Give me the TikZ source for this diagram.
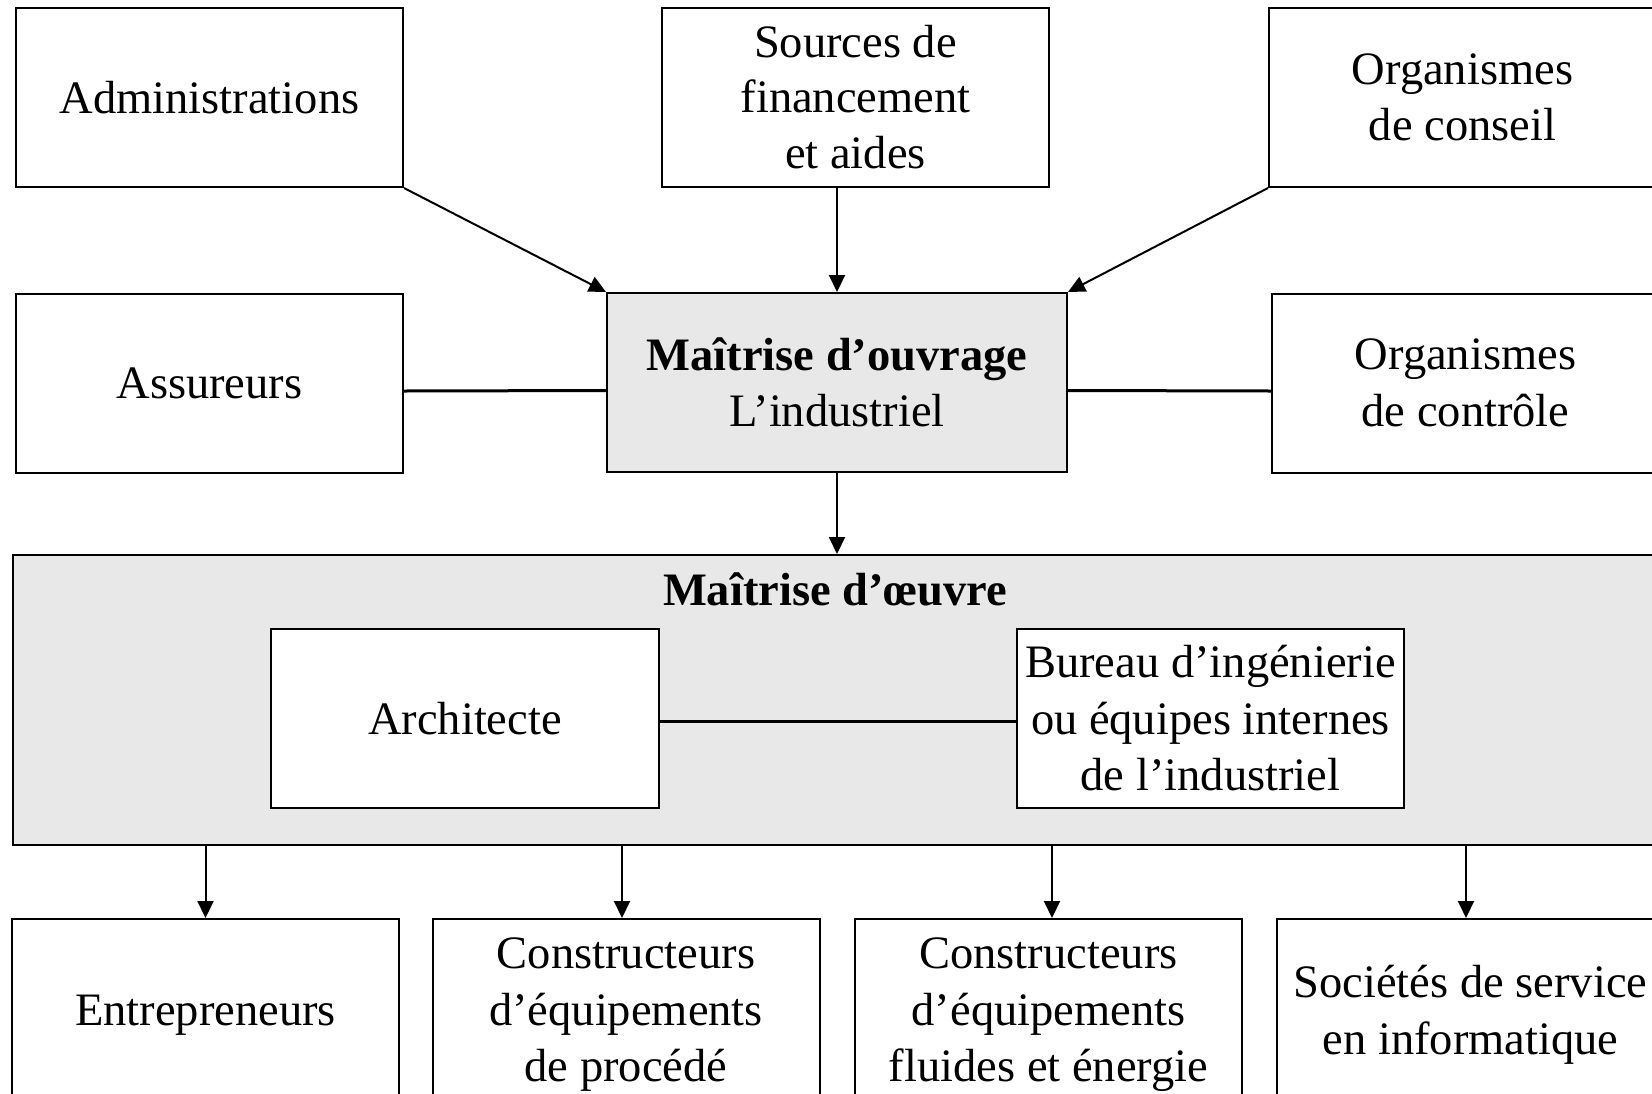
\documentclass[tikz,border=0pt]{standalone}
\usepackage{fontspec}
\setmainfont{Liberation Serif}
\usetikzlibrary{arrows.meta}
\definecolor{panelgray}{HTML}{E8E8E8}
\tikzset{
  box/.style={draw=black, line width=2pt, fill=white, inner sep=0pt,
    minimum width=387pt, minimum height=179pt, align=center},
  lowbox/.style={box, minimum height=192pt},
  panel/.style={draw=black, line width=2pt, fill=panelgray, inner sep=0pt},
  arr/.style={line width=2pt, -{Triangle[length=17pt,width=16pt]}},
  link/.style={line width=3pt},
}
\begin{document}
\begin{tikzpicture}[x=1pt, y=-1pt,
  font=\fontsize{46.5}{56.5}\selectfont]
\clip (0,0) rectangle (1652,1093);
\fill[white] (0,0) rectangle (1652,1093);

% project management panel (behind its two members)
\node[panel, minimum width=1667pt, minimum height=290pt] (moe) at (846.5,700) {};
\node[anchor=base, font=\fontsize{46.5}{56.5}\selectfont\bfseries] (moetitle) at (835,605) {Maîtrise d’œuvre};

% top row
\node[box] (admin) at (209.5,97.5) {Administrations};
\node[box] (src) at (855.5,97.5) {\raisebox{-2pt}{Sources de}\\financement\\et aides};
\node[box] (cons) at (1462.5,97.5) {Organismes\\de conseil};

% second row
\node[box] (assur) at (209.5,383) {Assureurs};
\node[box, fill=panelgray, minimum width=460pt] (mo) at (837,382.5) {{\bfseries Maîtrise d’ouvrage}\\L’industriel};
\node[box] (ctrl) at (1465.5,383) {Organismes\\de contrôle};

% inside the panel
\node[box, minimum width=388pt] (arch) at (465,718.5) {Architecte};
\node[box] (bur) at (1210.5,718.5) {Bureau d’ingénierie\\ou équipes internes\\de l’industriel};

% bottom row (running past the lower edge)
\node[lowbox] (ent) at (205.5,1015) {Entrepreneurs};
\node[lowbox] (proc) at (626,1015) {Constructeurs\\d’équipements\\de procédé};
\node[lowbox] (flu) at (1048.5,1015) {Constructeurs\\d’équipements\\fluides et énergie};
\node[lowbox] (ssii) at (1470.5,1015) {Sociétés de service\\en informatique};

% connectors
\draw[arr] (admin.south east) -- (mo.north west);
\draw[arr] (mo.north |- src.south) -- (mo.north);
\draw[arr] (cons.south west) -- (mo.north east);
\draw[link] ([yshift=-8pt]assur.east) -- ([yshift=-8pt]mo.west);
\draw[link] ([yshift=-8pt]mo.east) -- ([yshift=-8pt]ctrl.west);
\draw[arr] (mo.south) -- (mo.south |- moe.north);
\draw[link] ([yshift=-2.5pt]arch.east) -- ([yshift=-2.5pt]bur.west);
\draw[arr] (ent.north |- moe.south) -- (ent.north);
\draw[arr] ([xshift=-4pt]proc.north |- moe.south) -- ([xshift=-4pt]proc.north);
\draw[arr] ([xshift=3.5pt]flu.north |- moe.south) -- ([xshift=3.5pt]flu.north);
\draw[arr] ([xshift=-4.5pt]ssii.north |- moe.south) -- ([xshift=-4.5pt]ssii.north);
\end{tikzpicture}
\end{document}
